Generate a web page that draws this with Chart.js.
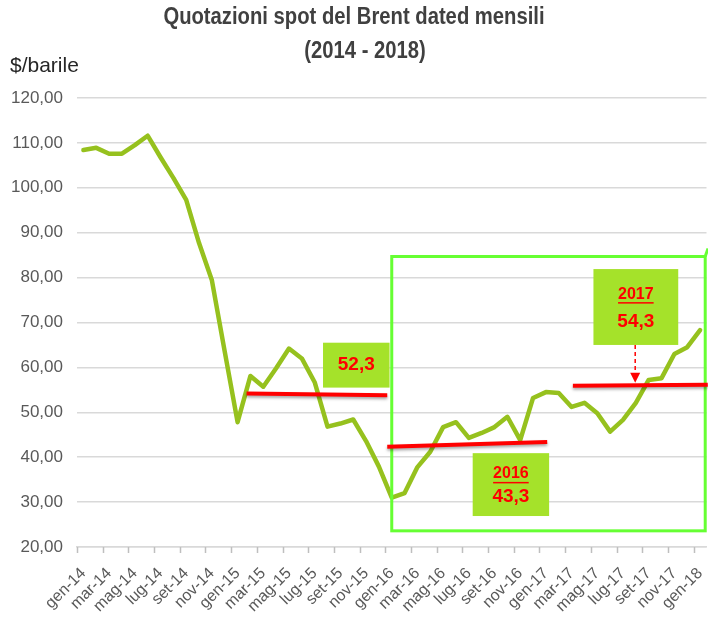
<!DOCTYPE html>
<html>
<head>
<meta charset="utf-8">
<title>Brent dated mensili</title>
<script src="https://cdn.jsdelivr.net/npm/chart.js@4.4.1/dist/chart.umd.min.js"></script>
<style>
  html, body { margin: 0; padding: 0; background: #fff; }
  #wrap { position: relative; width: 708px; height: 618px; }
</style>
</head>
<body>
<div id="wrap"><canvas id="brentChart" width="708" height="618"></canvas></div>
<script>
// monthly categories (gen-14 .. gen-18)
const months = [
    'gen-14', 'feb-14', 'mar-14', 'apr-14', 'mag-14', 'giu-14', 'lug-14', 'ago-14', 'set-14', 'ott-14', 'nov-14', 'dic-14',
    'gen-15', 'feb-15', 'mar-15', 'apr-15', 'mag-15', 'giu-15', 'lug-15', 'ago-15', 'set-15', 'ott-15', 'nov-15', 'dic-15',
    'gen-16', 'feb-16', 'mar-16', 'apr-16', 'mag-16', 'giu-16', 'lug-16', 'ago-16', 'set-16', 'ott-16', 'nov-16', 'dic-16',
    'gen-17', 'feb-17', 'mar-17', 'apr-17', 'mag-17', 'giu-17', 'lug-17', 'ago-17', 'set-17', 'ott-17', 'nov-17', 'dic-17',
    'gen-18'
];

// Brent dated, $/barile
const brent = [
    108.4, 108.9, 107.6, 107.6, 109.5, 111.6, 106.8, 102.2, 97.3, 87.7, 79.4, 63.5,
    47.8, 58.1, 55.7, 59.8, 64.2, 62.0, 56.7, 46.8, 47.5, 48.4, 43.6, 37.9,
    31.0, 32.0, 37.8, 41.2, 46.7, 47.8, 44.3, 45.4, 46.7, 49.0, 43.8, 53.2,
    54.5, 54.3, 51.2, 52.1, 49.8, 45.7, 48.3, 52.1, 57.2, 57.6, 63.0, 64.5, 68.3
];

// y axis ticks
const yTicks = [20, 30, 40, 50, 60, 70, 80, 90, 100, 110, 120];

// yearly averages shown as red lines: [startIdx, endIdx, startVal, endVal]
const avgLines = [
    [12.7, 23.65, 54.2, 53.8],
    [23.65, 36.1, 42.3, 43.4],
    [38.1, 48.6, 55.9, 56.15]
];
const avgYears = ['', '2016', '2017'];
const avgValues = ['52,3', '43,3', '54,3'];

const LINE_COLOR = '#96C11E';
const BOX_COLOR = '#A5E22A';
const FRAME_COLOR = '#66FF33';
const RED = '#FF0000';
const AXIS_TEXT = '#595959';
const GRID = '#D9D9D9';

// label every other month, tick marks sit between categories
const labelIdx = months.map((m, i) => i).filter(i => i % 2 === 0);
const tickMarks = labelIdx.map(i => i - 0.5);

// where the callouts go (data units)
const boxes = [
    { x0: 18.65, x1: 23.83, y0: 65.5, y1: 55.5 },
    { x0: 30.3, x1: 36.25, y0: 40.9, y1: 26.9 },
    { x0: 39.7, x1: 46.3, y0: 81.9, y1: 65.0 }
];
const frame = { x0: 24.0, x1: 48.4, y0: 84.7, y1: 23.6 };
const arrow = { x: 42.95, y0: 65.0, y1: 56.6 };

const overlay = {
    id: 'overlay',
    afterDatasetsDraw(chart) {
        const { ctx, scales: { x, y } } = chart;
        const px = v => x.getPixelForValue(v);
        const py = v => y.getPixelForValue(v);
        ctx.save();

        // tick marks under the category axis
        ctx.strokeStyle = '#BFBFBF';
        ctx.lineWidth = 1.5;
        tickMarks.forEach(v => {
            const xx = Math.round(px(v)) + 0.5;
            ctx.beginPath();
            ctx.moveTo(xx, y.bottom);
            ctx.lineTo(xx, y.bottom + 6);
            ctx.stroke();
        });

        // green frame around 2016-2017
        ctx.strokeStyle = FRAME_COLOR;
        ctx.lineWidth = 3;
        ctx.strokeRect(px(frame.x0), py(frame.y0), px(frame.x1) - px(frame.x0), py(frame.y1) - py(frame.y0));
        ctx.beginPath();
        ctx.moveTo(px(frame.x1), py(frame.y0));
        ctx.lineTo(708, py(frame.y0) - 8);
        ctx.stroke();

        // red average lines
        ctx.strokeStyle = RED;
        ctx.lineWidth = 4;
        ctx.shadowColor = 'rgba(0,0,0,0.35)';
        ctx.shadowOffsetY = 2;
        ctx.shadowBlur = 3;
        avgLines.forEach(l => {
            ctx.beginPath();
            ctx.moveTo(px(l[0]), py(l[2]));
            ctx.lineTo(px(l[1]), py(l[3]));
            ctx.stroke();
        });
        ctx.shadowColor = 'transparent';

        // callout boxes
        boxes.forEach((b, i) => {
            const bx = px(b.x0), by = py(b.y0);
            const bw = px(b.x1) - bx, bh = py(b.y1) - by;
            ctx.fillStyle = BOX_COLOR;
            ctx.fillRect(bx, by, bw, bh);
            ctx.fillStyle = RED;
            ctx.textAlign = 'center';
            ctx.textBaseline = 'middle';
            const cx = bx + bw / 2;
            if (avgYears[i]) {
                ctx.font = 'bold 16px "Liberation Sans", Arial, sans-serif';
                const ty = by + bh * 0.33;
                ctx.fillText(avgYears[i], cx, ty);
                const w = ctx.measureText(avgYears[i]).width;
                ctx.fillRect(cx - w / 2, ty + 8, w, 1.5);
                ctx.font = 'bold 19px "Liberation Sans", Arial, sans-serif';
                ctx.fillText(avgValues[i], cx, by + bh * 0.7);
            } else {
                ctx.font = 'bold 19px "Liberation Sans", Arial, sans-serif';
                ctx.fillText(avgValues[i], cx, by + bh / 2);
            }
        });

        // dashed arrow from the 2017 box to its line
        const ax = px(arrow.x), ay0 = py(arrow.y0), ay1 = py(arrow.y1);
        ctx.strokeStyle = RED;
        ctx.lineWidth = 1.5;
        ctx.setLineDash([4, 3]);
        ctx.beginPath();
        ctx.moveTo(ax, ay0);
        ctx.lineTo(ax, ay1 - 9);
        ctx.stroke();
        ctx.setLineDash([]);
        ctx.fillStyle = RED;
        ctx.beginPath();
        ctx.moveTo(ax - 5, ay1 - 10);
        ctx.lineTo(ax + 5, ay1 - 10);
        ctx.lineTo(ax, ay1);
        ctx.closePath();
        ctx.fill();

        ctx.restore();
    },
    afterDraw(chart) {
        const ctx = chart.ctx;
        ctx.save();
        ctx.fillStyle = '#404040';
        ctx.textAlign = 'center';
        ctx.textBaseline = 'middle';
        ctx.font = 'bold 23px "Liberation Sans", Arial, sans-serif';
        // condensed look, like the original narrow title face
        ctx.save();
        ctx.scale(0.88, 1);
        ctx.fillText('Quotazioni spot del Brent dated mensili', 354 / 0.88, 18);
        ctx.fillText('(2014 - 2018)', 365 / 0.88, 52);
        ctx.restore();
        ctx.fillStyle = '#262626';
        ctx.textAlign = 'left';
        ctx.font = '21px "Liberation Sans", Arial, sans-serif';
        ctx.fillText('$/barile', 10, 66);
        ctx.restore();
    }
};

new Chart(document.getElementById('brentChart').getContext('2d'), {
    type: 'line',
    data: {
        datasets: [{
            label: 'Brent dated',
            data: brent.map((v, i) => ({ x: i, y: v })),
            borderColor: LINE_COLOR,
            borderWidth: 4.5,
            borderJoinStyle: 'round',
            borderCapStyle: 'round',
            pointRadius: 0,
            fill: false,
            tension: 0
        }]
    },
    options: {
        responsive: false,
        animation: false,
        layout: { padding: { top: 98, right: 1.5, left: 0, bottom: 0 } },
        plugins: {
            legend: { display: false },
            tooltip: { enabled: false },
            title: { display: false }
        },
        scales: {
            x: {
                type: 'linear',
                min: -0.5,
                max: 48.5,
                afterBuildTicks: s => { s.ticks = labelIdx.map(v => ({ value: v })); },
                afterFit: s => { s.height = 71; s.paddingLeft = 0; s.paddingRight = 0; },
                ticks: {
                    autoSkip: false,
                    maxRotation: 45,
                    minRotation: 45,
                    padding: 17,
                    color: AXIS_TEXT,
                    font: { family: '"Liberation Sans", Arial, sans-serif', size: 16 },
                    callback: v => months[v]
                },
                grid: { display: true, drawOnChartArea: false, drawTicks: false },
                border: { display: true, color: GRID, width: 1.5 }
            },
            y: {
                min: 20,
                max: 120,
                afterBuildTicks: s => { s.ticks = yTicks.map(v => ({ value: v })); },
                afterFit: s => { s.width = 77; s.paddingTop = 0; s.paddingBottom = 0; },
                ticks: {
                    padding: 14,
                    color: AXIS_TEXT,
                    font: { family: '"Liberation Sans", Arial, sans-serif', size: 17 },
                    callback: v => v.toFixed(2).replace('.', ',')
                },
                grid: { color: GRID, lineWidth: 1.5, drawTicks: false },
                border: { display: false }
            }
        }
    },
    plugins: [overlay]
});
</script>
</body>
</html>
